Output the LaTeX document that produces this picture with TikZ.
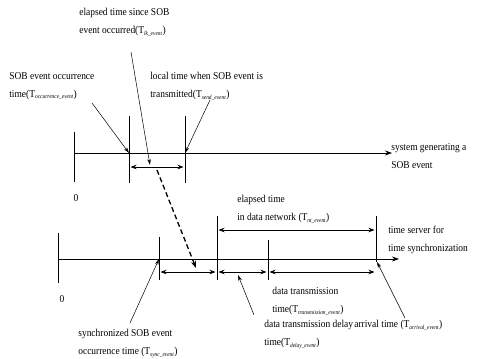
\documentclass[tikz,border=0pt]{standalone}
\usepackage{fontspec}
\setmainfont[FakeStretch=0.9]{Liberation Serif}
\usetikzlibrary{arrows.meta}
\newcommand{\sub}[1]{\textsubscript{\fontsize{6}{6}\selectfont\itshape #1}}
\begin{document}
\begin{tikzpicture}[x=1pt,y=-1pt,line width=0.7pt,
 lbl/.style={anchor=north west,align=left,inner sep=0pt,font=\fontsize{10.5}{18}\selectfont},
 axis/.style={line width=0.7pt,-{Stealth[length=7pt,width=5pt]}},
 tick/.style={line width=0.7pt},
 dbl/.style={line width=0.7pt,{Stealth[length=6pt,width=4.5pt]}-{Stealth[length=6pt,width=4.5pt]},shorten <=1.5pt,shorten >=1.5pt},
 ptr/.style={line width=0.5pt,-{Stealth[length=6pt,width=3.5pt]}},
 dsh/.style={line width=1.3pt,dashed,dash pattern=on 5pt off 3pt,-{Stealth[length=7pt,width=5pt]}}]
\useasboundingbox (0,0) rectangle (496,359);
% top axis
\coordinate (a0) at (74,153);
\coordinate (aE) at (392,153);
\coordinate (t1) at (129,153);
\coordinate (t2) at (185,153);
\draw[axis] (a0) -- (aE);
\draw[tick] (74,132) -- (74,182);
\draw[tick] (129,116) -- (129,183);
\draw[tick] (185,116) -- (185,183);
\coordinate (d1) at (129,167);
\coordinate (d2) at (185,167);
\draw[dbl] (d1) -- (d2);
\node (z1) at (76,198) {\fontsize{10.5}{12}\selectfont 0};
\node[lbl] (sys) at (391,143) {system generating a\\SOB event};
% bottom axis
\coordinate (b0) at (58,259);
\coordinate (bE) at (399,259);
\coordinate (b1) at (159,259);
\coordinate (b2) at (217,259);
\coordinate (b3) at (268,259);
\coordinate (b4) at (376,259);
\draw[axis] (b0) -- (bE);
\draw[tick] (58,233) -- (58,283);
\draw[tick] (159,237) -- (159,280);
\draw[tick] (217,216) -- (217,280);
\draw[tick] (268,240) -- (268,280);
\draw[tick] (376,216) -- (376,262);
\node (z2) at (62,299) {\fontsize{10.5}{12}\selectfont 0};
\node[lbl] (ts) at (388,226) {time server for\\time synchronization};
% double arrows
\coordinate (e1) at (159,272);
\coordinate (e2) at (217,272);
\coordinate (e3) at (268,272);
\coordinate (e4) at (376,272);
\draw[dbl] (e1) -- (e2);
\draw[dbl] (e2) -- (e3);
\draw[dbl] (e3) -- (e4);
\coordinate (n1) at (217,230);
\coordinate (n2) at (376,230);
\draw[dbl] (n1) -- (n2);
% dashed mapping
\coordinate (m1) at (157,170);
\coordinate (m2) at (196,268);
\draw[dsh] (m1) -- (m2);
% labels
\node[lbl] (lel) at (79,8) {elapsed time since SOB\\event occurred(T\sub{lk\_event})};
\node[lbl] (loc) at (9,72) {SOB event occurrence\\time(T\sub{occurrence\_event})};
\node[lbl] (ltr) at (150,72) {local time when SOB event is\\transmitted(T\sub{send\_event})};
\node[lbl] (lnet) at (237,195) {elapsed time\\in data network (T\sub{nt\_event})};
\node[lbl] (ldt) at (272,287) {data transmission\\time(T\sub{transmission\_event})};
\node[lbl] (lsy) at (78,329) {synchronized SOB event\\occurrence time (T\sub{sync\_event})};
\node[lbl] (ldl) at (264,320) {data transmission delay\\time(T\sub{delay\_event})};
\node[lbl] (lar) at (354,320) {arrival time (T\sub{arrival\_event})};
% pointers
\coordinate (p1) at (131,52);
\coordinate (q1) at (150,165);
\draw[ptr] (p1) -- (q1);
\coordinate (p2) at (92,103);
\draw[ptr] (p2) -- (t1);
\coordinate (p3) at (210,100);
\draw[ptr] (p3) -- (t2);
\coordinate (p4) at (130,323);
\draw[ptr] (p4) -- (b1);
\coordinate (p5) at (254,315);
\coordinate (q5) at (238,275);
\draw[ptr] (p5) -- (q5);
\coordinate (p6) at (405,318);
\coordinate (q6) at (377,262);
\draw[ptr] (p6) -- (q6);
\end{tikzpicture}
\end{document}
